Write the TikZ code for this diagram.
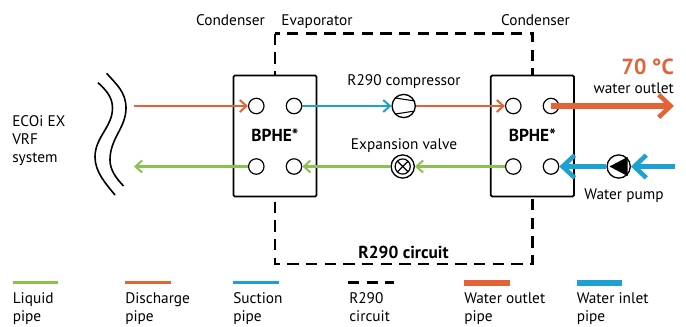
\documentclass[tikz,border=0pt]{standalone}
\usepackage{fontspec}
\setmainfont{PT Sans}
\usetikzlibrary{arrows.meta}
\definecolor{cliq}{HTML}{8CC152}
\definecolor{cdis}{HTML}{E36336}
\definecolor{csuc}{HTML}{1DA1D2}
\tikzset{
  txt/.style={font=\fontsize{11.5}{13.6}\selectfont, inner sep=0pt, text=black},
  bold/.style={txt, font=\fontsize{13}{14}\selectfont\bfseries},
  hx/.style={draw, fill=white, line width=1.3pt, rounded corners=1pt, minimum width=62.4pt, minimum height=90.7pt, inner sep=0pt},
  port/.style={circle, draw, fill=white, line width=0.9pt, minimum size=11.6pt, inner sep=0pt},
  unit/.style={circle, draw, fill=white, line width=1pt, minimum size=17.4pt, inner sep=0pt},
  thin tip/.style={-{Straight Barb[length=5pt,width=9pt,line width=1.5pt]}},
  thick tip/.style={-{Straight Barb[length=9pt,width=17pt,line width=3.4pt]}},
  pipe/.style={line width=1.7pt},
  wpipe/.style={line width=4pt},
  circuit/.style={line width=1.9pt, dash pattern=on 8.5pt off 5.5pt},
  wavy/.style={line width=1.2pt},
}
\begin{document}
\begin{tikzpicture}[x=0.75pt,y=-0.75pt]
\useasboundingbox (0,0) rectangle (686,326);
% R290 circuit
\coordinate (c1) at (275,33.7);
\coordinate (c2) at (532.3,264);
\draw[circuit] (c1) rectangle (c2);
% exchangers
\node[hx] (hxL) at (275,136) {};
\node[hx] (hxR) at (532.3,136) {};
\node[bold] (bL) at (275,135) {BPHE*};
\node[bold] (bR) at (532.3,135) {BPHE*};
% ports
\node[port] (p1) at (256.3,106) {};
\node[port] (p2) at (294,106) {};
\node[port] (p3) at (256.3,166.5) {};
\node[port] (p4) at (294,166.5) {};
\node[port] (q1) at (513.3,106) {};
\node[port] (q2) at (551,106) {};
\node[port] (q3) at (513.3,166.5) {};
\node[port] (q4) at (551,166.5) {};
% units
\node[unit] (comp) at (403.7,106) {};
\node[unit] (valve) at (402.7,166.5) {};
\node[unit] (pump) at (618.7,166.5) {};
% free ends
\coordinate (a) at (133.5,106);
\coordinate (b) at (134,166.5);
\coordinate (o) at (674,106);
\coordinate (w) at (675,166.5);
% pipes
\draw[pipe,cdis,thin tip] (a) -- (p1.west);
\draw[pipe,csuc,thin tip] (p2.east) -- (comp.west);
\draw[pipe,cdis,thin tip] (comp.east) -- (q1.west);
\draw[pipe,cliq,thin tip] (q3.west) -- (valve.east);
\draw[pipe,cliq,thin tip] (valve.west) -- (p4.east);
\draw[pipe,cliq,thin tip] (p3.west) -- (b);
\draw[wpipe,cdis,thick tip] (q2.center) -- (o);
\draw[wpipe,csuc,thick tip] (w) -- (pump.east);
\draw[wpipe,csuc,thick tip] (pump.west) -- (q4.east);
% compressor symbol
\begin{scope}
\clip (comp) circle (11.5);
\draw[line width=0.8pt] (392,97.5) -- (415,101);
\draw[line width=0.8pt] (392,114.5) -- (415,111);
\end{scope}
% valve symbol
\draw[line width=0.9pt] (valve) circle (7.6);
\draw[line width=0.9pt] (397.3,161.1) -- (408.1,171.9) (408.1,161.1) -- (397.3,171.9);
% pump symbol
\fill (609.5,166.5) -- (627.5,157) -- (627.5,176) -- cycle;
% waves
\draw[wavy] (106.7,73.3) .. controls (116,84) and (126,92) .. (126,108) .. controls (126,128) and (110,138) .. (110,160) .. controls (110,170) and (116,178) .. (123.5,186);
\draw[wavy] (98,82.7) .. controls (106,90) and (112.5,97) .. (112.5,108) .. controls (112.5,127) and (95,137) .. (95,157) .. controls (95,172) and (106,184) .. (115,195);
% labels
\node[txt,anchor=base] (t1) at (230.5,25) {Condenser};
\node[txt,anchor=base] (t2) at (317,25) {Evaporator};
\node[txt,anchor=base] (t3) at (535.5,25) {Condenser};
\node[txt,anchor=base] (t4) at (404,85) {R290 compressor};
\node[txt,anchor=base] (t5) at (404,149) {Expansion valve};
\node[txt,anchor=base] (t6) at (624,199) {Water pump};
\node[txt,anchor=base east] (t7) at (674,93) {water outlet};
\node[anchor=base east,inner sep=0pt,text=cdis,font=\fontsize{16.4}{18}\selectfont\bfseries] (t8) at (674,74) {70 °C};
\node[bold,anchor=base] (t9) at (403.5,258) {R290 circuit};
\node[txt,anchor=north west,align=left] (t10) at (12,115) {ECOi EX\\VRF\\system};
% legend
\foreach \n/\x/\c/\w/\l/\m in {
  l1/12.5/cliq/2.2pt/Liquid/pipe,
  l2/125/cdis/2.2pt/Discharge/pipe,
  l3/233/csuc/2.2pt/Suction/pipe,
  l5/464/cdis/4.2pt/Water outlet/pipe,
  l6/576.5/csuc/4.2pt/Water inlet/pipe}{
  \coordinate (\n a) at (\x,282.7);
  \coordinate (\n b) at (\x+45.5,282.7);
  \draw[\c,line width=\w] (\n a) -- (\n b);
  \node[txt,anchor=base west] (\n t) at (\x,303) {\l};
  \node[txt,anchor=base west] (\n u) at (\x,321) {\m};
}
\coordinate (l4a) at (348,282.7);
\coordinate (l4b) at (394,282.7);
\draw[line width=1.9pt,dash pattern=on 8.5pt off 5.5pt] (l4a) -- (l4b);
\node[txt,anchor=base west] (l4t) at (349,303) {R290};
\node[txt,anchor=base west] (l4u) at (349,321) {circuit};
\end{tikzpicture}
\end{document}
